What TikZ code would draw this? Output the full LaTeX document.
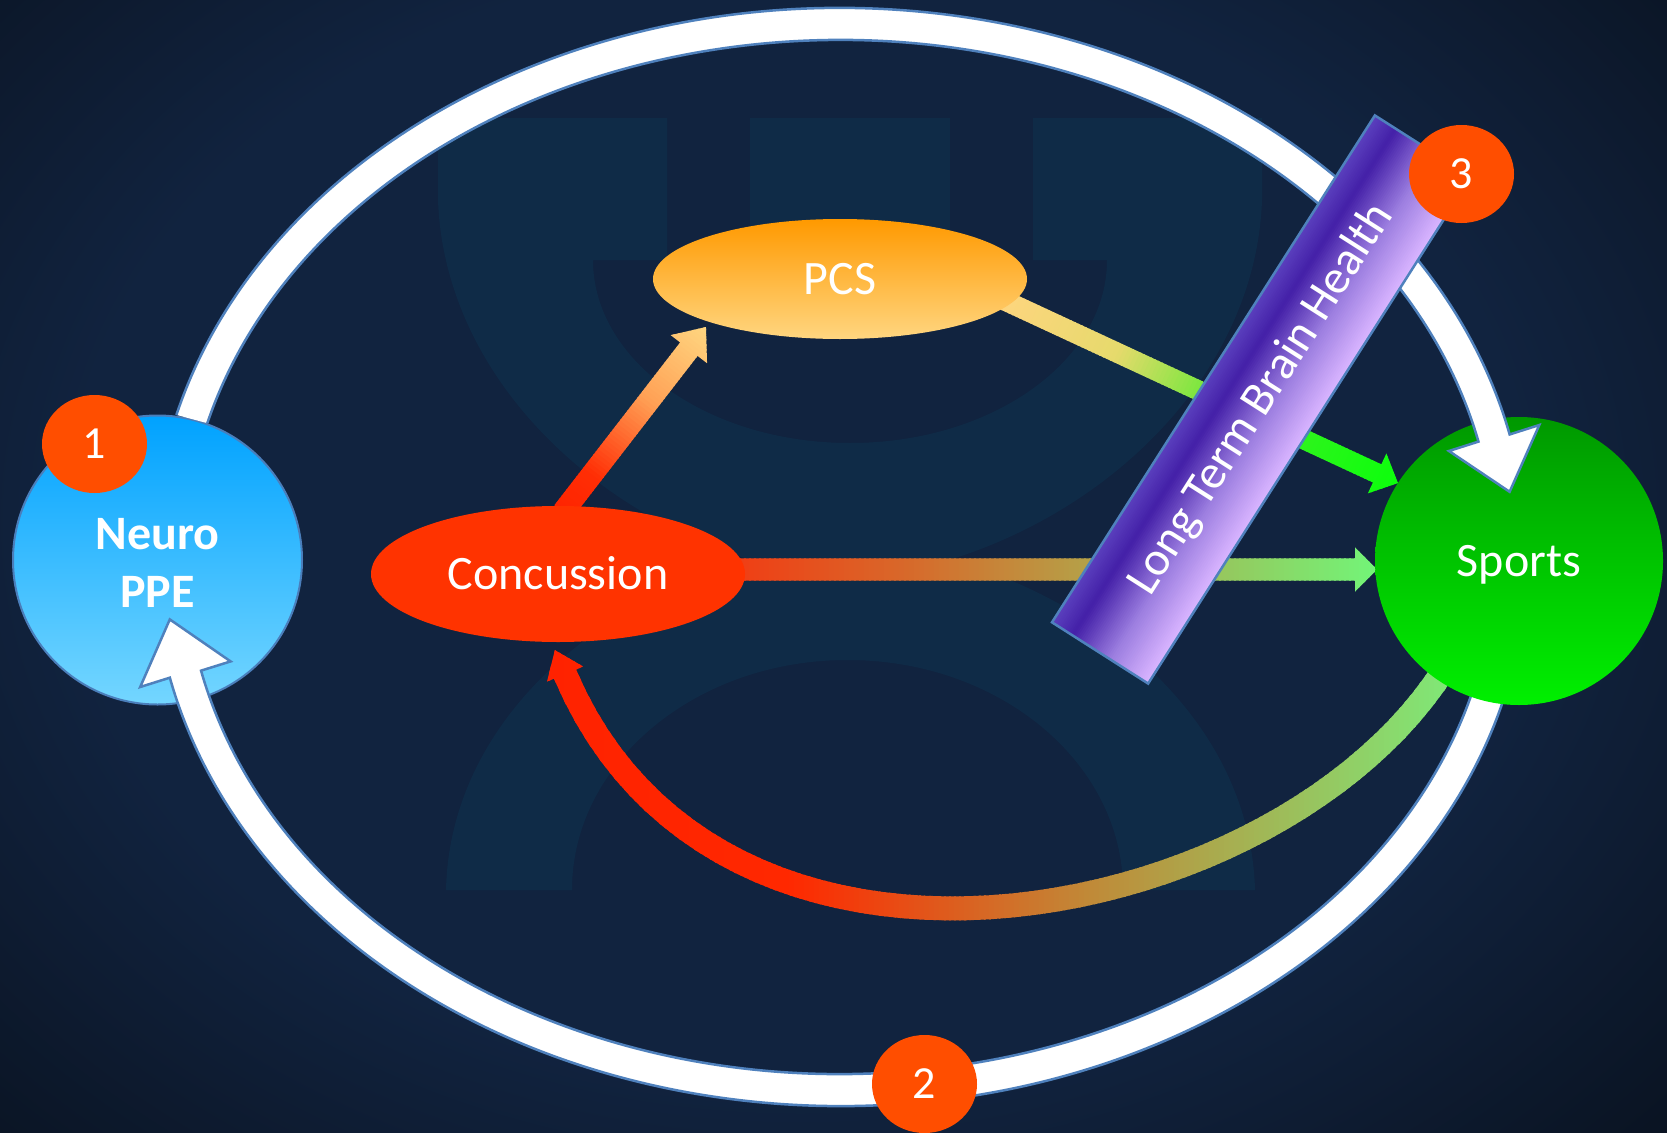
\documentclass[tikz,border=0pt]{standalone}
\usepackage{fontspec}
\setmainfont{Carlito}
\usetikzlibrary{shapes.geometric,calc}

% ---------- palette ----------
\definecolor{bgOut}{HTML}{080F1A}
\definecolor{bgIn}{HTML}{11233F}
\definecolor{logoCol}{HTML}{0F2B47}
\definecolor{ringBlue}{HTML}{4F81BD}
\definecolor{badgeCol}{HTML}{FF4E00}
\definecolor{concCol}{HTML}{FF3300}
\definecolor{pcsTop}{HTML}{FF9900}
\definecolor{pcsBot}{HTML}{FFD680}
\definecolor{neuroTop}{HTML}{00A2FF}
\definecolor{neuroBot}{HTML}{74D6FF}
\definecolor{neuroLine}{HTML}{4A7EBB}
\definecolor{sportsTop}{HTML}{009800}
\definecolor{sportsBot}{HTML}{00F000}
% Concussion -> PCS
\definecolor{aA}{HTML}{FF2400}
\definecolor{aB}{HTML}{FF2E05}
\definecolor{aC}{HTML}{FFA055}
\definecolor{aD}{HTML}{FFD680}
% PCS -> Sports
\definecolor{bA}{HTML}{FFD580}
\definecolor{bB}{HTML}{E6DA6C}
\definecolor{bC}{HTML}{40EE25}
\definecolor{bD}{HTML}{0CFF0C}
% Concussion -> Sports
\definecolor{cA}{HTML}{F53510}
\definecolor{cB}{HTML}{D8682A}
\definecolor{cC}{HTML}{B89C45}
\definecolor{cD}{HTML}{72F578}
% Sports -> Concussion (return arc)
\definecolor{dA}{HTML}{FF2200}
\definecolor{dB}{HTML}{FF2800}
\definecolor{dC}{HTML}{C08A38}
\definecolor{dD}{HTML}{7EEA78}
% banner
\definecolor{eA}{HTML}{5B40BE}
\definecolor{eB}{HTML}{4420A8}
\definecolor{eC}{HTML}{9C7EE0}
\definecolor{eD}{HTML}{D8B4FF}

% soft glow with a flat centre for the backdrop
\pgfdeclareradialshading{bgglow}{\pgfpoint{0bp}{0bp}}{%
  color(0bp)=(bgIn); color(14bp)=(bgIn); color(25bp)=(bgOut); color(50bp)=(bgOut)}

% colour "gc" at position #1 (0..1) of a four-stop ramp:
% #2 at 0, #4 at #3, #6 at #5, #7 at 1
\newcommand{\rampcolor}[7]{%
  \ifdim #1pt<#3pt
    \pgfmathsetmacro\rampw{100*(#3-#1)/#3}%
    \colorlet{gc}{#2!\rampw!#4}%
  \else\ifdim #1pt<#5pt
    \pgfmathsetmacro\rampw{100*(#5-#1)/(#5-#3)}%
    \colorlet{gc}{#4!\rampw!#6}%
  \else
    \pgfmathsetmacro\rampw{100*(1-#1)/(1-#5)}%
    \colorlet{gc}{#6!\rampw!#7}%
  \fi\fi}

\begin{document}
\begin{tikzpicture}[x=1pt, y=-1pt,
  lbl/.style={text=white, font=\fontsize{48}{59}\selectfont},
  capbox/.style={text height=30.9pt, text depth=0pt},
  badge/.style={ellipse, fill=badgeCol, minimum width=105pt, minimum height=98pt,
    inner sep=0pt, text=white, font=\fontsize{46}{57}\selectfont,
    text height=29.6pt, text depth=0pt},
  ringline/.style={fill=white, draw=ringBlue, line width=2.5pt, line join=miter},
  % return arc centre line (in units of 100)
  declare function={
    bx(\t)=(1-\t)^3*14.45+3*(1-\t)^2*\t*12.8+3*(1-\t)*\t^2*7.2+\t^3*5.65;
    by(\t)=(1-\t)^3*6.68+3*(1-\t)^2*\t*9.3+3*(1-\t)*\t^2*10.4+\t^3*6.74;
    tx(\t)=3*(1-\t)^2*(-1.65)+6*(1-\t)*\t*(-5.6)+3*\t^2*(-1.55);
    ty(\t)=3*(1-\t)^2*(2.62)+6*(1-\t)*\t*(1.1)+3*\t^2*(-3.66);
    tl(\t)=sqrt(tx(\t)^2+ty(\t)^2);
  }]
\useasboundingbox (0,0) rectangle (1667,1132);

% ---------- background ----------
\fill[bgOut] (0,0) rectangle (1667,1132);
\shade[shading=bgglow] (800,520) ellipse [x radius=1300, y radius=1000];

% ---------- watermark emblem ----------
\fill[logoCol] (438,118) -- (667,118) -- (667,260) -- (593,260)
  arc[start angle=180, end angle=0, x radius=257, y radius=183]
  -- (1033,260) -- (1033,118) -- (1262,118) -- (1262,200)
  .. controls (1255,400) and (1060,560) .. (850,580)
  .. controls (640,560) and (445,400) .. (438,200) -- cycle;
\fill[logoCol] (750,118) rectangle (950,260);
\fill[logoCol] (446,890) .. controls (450,700) and (640,560) .. (850,540)
  .. controls (1060,560) and (1250,700) .. (1255,890) -- (1123,890)
  arc[start angle=0, end angle=-180, x radius=275.5, y radius=230] -- cycle;

% ---------- gradient arrows ----------
\coordinate (aStart) at (563,512);
\coordinate (bStart) at (995,296);
\coordinate (cStart) at (700,569.5);

% Concussion -> PCS
\begin{scope}[shift={(aStart)}, rotate=52.3]
  \clip (0,-11) -- (205.8,-11) -- (205.8,-23) -- (233.8,0) -- (205.8,23) -- (205.8,11) -- (0,11) -- cycle;
  \foreach \i in {0,...,58}{%
    \pgfmathsetmacro\s{\i/58}%
    \rampcolor{\s}{aA}{0.2}{aB}{0.6}{aC}{aD}%
    \fill[gc] (\i*4-0.6,-30) rectangle (\i*4+4.6,30);
  }
\end{scope}

% PCS -> Sports
\begin{scope}[shift={(bStart)}, rotate=-24.9]
  \clip (0,-10) -- (421.3,-10) -- (421.3,-22) -- (444.3,0) -- (421.3,22) -- (421.3,10) -- (0,10) -- cycle;
  \foreach \i in {0,...,111}{%
    \pgfmathsetmacro\s{\i/111}%
    \rampcolor{\s}{bA}{0.3}{bB}{0.62}{bC}{bD}%
    \fill[gc] (\i*4-0.6,-30) rectangle (\i*4+4.6,30);
  }
\end{scope}

% Concussion -> Sports
\begin{scope}[shift={(cStart)}]
  \clip (0,-11.2) -- (655,-11.2) -- (655,-22) -- (677,0) -- (655,22) -- (655,11.2) -- (0,11.2) -- cycle;
  \foreach \i in {0,...,135}{%
    \pgfmathsetmacro\s{\i/135}%
    \rampcolor{\s}{cA}{0.3}{cB}{0.55}{cC}{cD}%
    \fill[gc] (\i*5-0.6,-30) rectangle (\i*5+5.6,30);
  }
\end{scope}

% Sports -> Concussion (curved return)
\coordinate (dTip) at (554.9,650.1);
\begin{scope}
  \clip plot[variable=\u, domain=0:1, samples=50]
      ({100*bx(\u)-12*ty(\u)/tl(\u)}, {100*by(\u)+12*tx(\u)/tl(\u)})
    -- (583.0,666.4) -- (dTip) -- (547.0,681.6)
    -- plot[variable=\u, domain=1:0, samples=50]
      ({100*bx(\u)+12*ty(\u)/tl(\u)}, {100*by(\u)-12*tx(\u)/tl(\u)}) -- cycle;
  \foreach \i in {0,...,183}{%
    \pgfmathsetmacro\s{\i/183}%
    \rampcolor{\s}{dA}{0.27}{dB}{0.6}{dC}{dD}%
    \fill[gc] (540+\i*5-0.6,600) rectangle (540+\i*5+5.6,960);
  }
\end{scope}

% ---------- central nodes ----------
\node[ellipse, minimum width=374pt, minimum height=120pt, inner sep=0pt,
  top color=pcsTop, bottom color=pcsBot, lbl, capbox] (PCS) at (840,279) {PCS};
\node[ellipse, minimum width=374pt, minimum height=136pt, inner sep=0pt,
  fill=concCol, lbl, capbox] (Concussion) at (558,574) {Concussion};

% ---------- outer cycle ----------
\node[circle, minimum size=289pt, inner sep=0pt, top color=neuroTop, bottom color=neuroBot,
  draw=neuroLine, line width=2pt] (Neuro) at (157.5,560) {};
\node[lbl, font=\bfseries\fontsize{48}{58}\selectfont, align=center] (NeuroText)
  at ($(Neuro)+(0,2.5)$) {Neuro\\PPE};

\coordinate (ringC) at (840,557);
% lower half: leaves Sports, returns to Neuro PPE
\path[ringline] ($(ringC)+(10:687 and 549)$)
  arc[start angle=10, end angle=167.3, x radius=687, y radius=549]
  -- (140.2,687.0) -- (169.8,619.4) -- (230.6,661.4)
  -- ($(ringC)+(167.3:655 and 517)$)
  arc[start angle=167.3, end angle=10, x radius=655, y radius=517];

\node[circle, minimum size=288pt, inner sep=0pt, top color=sportsTop, bottom color=sportsBot,
  lbl, capbox] (Sports) at (1519,561) {Sports};

% upper half: leaves Neuro PPE, ends on Sports
\path[ringline] ($(ringC)+(195:687 and 549)$)
  arc[start angle=195, end angle=347.1, x radius=687, y radius=549]
  -- (1539.3,425.0) -- (1509.6,491.8) -- (1448.9,451.0)
  -- ($(ringC)+(347.1:655 and 517)$)
  arc[start angle=347.1, end angle=195, x radius=655, y radius=517];

% ---------- banner ----------
\coordinate (bannerC) at (1261.5,399.5);
\begin{scope}[shift={(bannerC)}, rotate=57.5]
  \foreach \i in {0,...,56}{%
    \pgfmathsetmacro\s{\i/56}%
    \rampcolor{\s}{eA}{0.22}{eB}{0.62}{eC}{eD}%
    \fill[gc] (-300.5,-57+\i*2-0.5) rectangle (300.5,-57+\i*2+2.5);
  }
  \draw[ringBlue, line width=2.5pt] (-300.5,-57) rectangle (300.5,57);
\end{scope}
\node[rotate=57.5, text=white, font=\fontsize{48}{58}\selectfont] (bannerText)
  at (bannerC) {Long Term Brain Health};

% ---------- step badges ----------
\node[badge] (b1) at (94.5,444) {1};
\node[badge] (b2) at (924.5,1084) {2};
\node[badge] (b3) at (1461.5,174) {3};
\end{tikzpicture}
\end{document}
